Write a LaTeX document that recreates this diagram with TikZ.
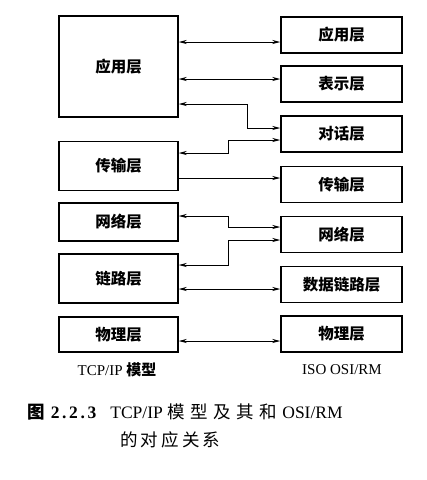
\documentclass[tikz,border=0pt]{standalone}
\usepackage{fontspec}
\setmainfont{Liberation Serif}
\newfontfamily\cjkfont{Noto Sans CJK SC}
\usetikzlibrary{arrows.meta, positioning}

\begin{document}
\begin{tikzpicture}[
    x=1pt, y=-1pt,
    layer/.style={draw, line width=1.5pt, font=\cjkfont\fontsize{15.5}{17}\selectfont\bfseries,
        inner sep=0pt},
    tcpbox/.style={layer, minimum width=119pt},
    osibox/.style={layer, minimum width=121pt, minimum height=36pt},
    link/.style={line width=0.8pt, {Stealth[length=8pt,width=4pt]}-{Stealth[length=8pt,width=4pt]}},
    onelink/.style={line width=0.8pt, -{Stealth[length=8pt,width=4pt]}},
]

% Rahmen des Bildes
\useasboundingbox (0,0) rectangle (427,480);

% TCP/IP-Seite
\node[tcpbox, minimum height=101pt] (tapp) at (118.5,66.5) {应用层};
\node[tcpbox, minimum height=49pt]  (ttra) at (118.5,166)  {传输层};
\node[tcpbox, minimum height=38pt]  (tnet) at (118.5,222)  {网络层};
\node[tcpbox, minimum height=49pt]  (tlnk) at (118.5,278.5) {链路层};
\node[tcpbox, minimum height=35pt]  (tphy) at (118.5,334.5) {物理层};

% OSI-Seite
\foreach \name/\y/\txt in {oapp/35/应用层, opre/84/表示层, oses/134/对话层,
    otra/184.5/传输层, onet/234.5/网络层, odl/284.5/数据链路层, ophy/334/物理层}{
    \node[osibox] (\name) at (341.5,\y) {\txt};
}

% Verbindungen
\draw[link] (tapp.east |- 0,42) -- (oapp.west |- 0,42);
\draw[link] (tapp.east |- 0,79) -- (opre.west |- 0,79);
\draw[link] (tapp.east |- 0,104) -| (247,128) -- (oses.west |- 0,128);
\draw[link] (ttra.east |- 0,153) -| (228,140) -- (oses.west |- 0,140);
\draw[onelink] (ttra.east |- 0,178) -- (otra.west |- 0,178);
\draw[link] (tnet.east |- 0,216) -| (228,227) -- (onet.west |- 0,227);
\draw[link] (tlnk.east |- 0,265) -| (228,240) -- (onet.west |- 0,240);
\draw[link] (tlnk.east |- 0,289) -- (odl.west |- 0,289);
\draw[link] (tphy.east |- 0,341) -- (ophy.west |- 0,341);

% Beschriftungen
\node[font=\fontsize{15}{17}\selectfont] (ltcp) at (117,370) {TCP/IP {\cjkfont\bfseries 模型}};
\node[font=\fontsize{15}{17}\selectfont] (losi) at (342,370) {ISO OSI/RM};

\node[anchor=west, font=\cjkfont\fontsize{17.5}{19}\selectfont, inner sep=0pt] (cap1) at (27,412)
    {\textbf{图}\hspace{0.35em}{\fontspec{Liberation Serif}[LetterSpace=15]\bfseries 2.2.3}\hspace{0.8em}%
     {\fontspec{Liberation Serif}TCP/IP}\hspace{0.25em}{\addfontfeature{LetterSpace=32}模型及其和}\hspace{0.3em}{\fontspec{Liberation Serif}OSI/RM}};
\node[anchor=west, font=\cjkfont\fontsize{17.5}{19}\selectfont, inner sep=0pt] (cap2) at (120,440)
    {\addfontfeature{LetterSpace=18}的对应关系};
\end{tikzpicture}
\end{document}
